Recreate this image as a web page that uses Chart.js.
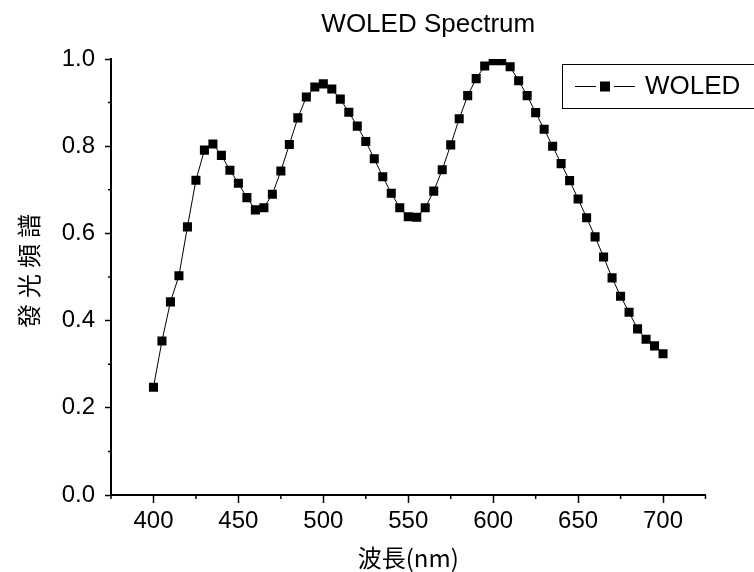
<!DOCTYPE html>
<html>
<head>
<meta charset="utf-8">
<script src="https://cdn.jsdelivr.net/npm/chart.js@4.4.1/dist/chart.umd.min.js"></script>
<style>
html, body { margin: 0; padding: 0; background: #fff; }
</style>
</head>
<body>
<canvas id="spectrumChart" width="754" height="572"></canvas>
<script>
const chartTitle = 'WOLED Spectrum';
const seriesLabel = 'WOLED';
const xAxisTitle = '波長(nm)';
const yAxisTitle = '發光頻譜';

const wavelengths = [
    400, 405, 410, 415, 420, 425, 430, 435, 440, 445,
    450, 455, 460, 465, 470, 475, 480, 485, 490, 495,
    500, 505, 510, 515, 520, 525, 530, 535, 540, 545,
    550, 555, 560, 565, 570, 575, 580, 585, 590, 595,
    600, 605, 610, 615, 620, 625, 630, 635, 640, 645,
    650, 655, 660, 665, 670, 675, 680, 685, 690, 695,
    700
];
const intensity = [
    0.247, 0.353, 0.443, 0.503, 0.615, 0.722, 0.791, 0.805, 0.779, 0.745,
    0.715, 0.682, 0.654, 0.659, 0.690, 0.743, 0.804, 0.865, 0.913, 0.936,
    0.943, 0.931, 0.908, 0.878, 0.846, 0.811, 0.771, 0.730, 0.692, 0.659,
    0.638, 0.637, 0.659, 0.697, 0.746, 0.803, 0.863, 0.916, 0.955, 0.984,
    0.996, 0.996, 0.982, 0.950, 0.916, 0.877, 0.839, 0.800, 0.760, 0.721,
    0.679, 0.636, 0.592, 0.546, 0.498, 0.456, 0.419, 0.381, 0.357, 0.342,
    0.324
];
const xTickLabels = [400, 450, 500, 550, 600, 650, 700];
const yTickLabels = [0.0, 0.2, 0.4, 0.6, 0.8, 1.0];

const latinFont = '"Liberation Sans", Arial, sans-serif';
const cjkFont = '"Noto Sans CJK TC", "Noto Sans CJK SC", sans-serif';

function isXLabel(v) {
    return xTickLabels.includes(v);
}
function isYLabel(v) {
    return yTickLabels.some(t => Math.abs(t - v) < 1e-6);
}

// short minor ticks between the labelled ones
const minorTicks = {
    id: 'minorTicks',
    afterDraw(chart) {
        const ctx = chart.ctx;
        const xs = chart.scales.x;
        const ys = chart.scales.y;
        ctx.save();
        ctx.strokeStyle = '#000';
        ctx.lineWidth = 1.5;
        ctx.beginPath();
        xs.ticks.forEach(t => {
            if (!isXLabel(t.value)) {
                const px = xs.getPixelForValue(t.value);
                ctx.moveTo(px, xs.top);
                ctx.lineTo(px, xs.top + 4);
            }
        });
        ys.ticks.forEach(t => {
            if (!isYLabel(t.value)) {
                const py = ys.getPixelForValue(t.value);
                ctx.moveTo(ys.right, py);
                ctx.lineTo(ys.right - 3, py);
            }
        });
        ctx.stroke();
        ctx.restore();
    }
};

const plotTitles = {
    id: 'plotTitles',
    afterDraw(chart) {
        const ctx = chart.ctx;
        const area = chart.chartArea;
        ctx.save();
        ctx.fillStyle = '#000';
        ctx.font = '26px ' + latinFont;
        ctx.textAlign = 'center';
        ctx.textBaseline = 'middle';
        ctx.fillText(chartTitle, (area.left + area.right) / 2 + 20, 25);

        // vertical axis title, spaced out like the original
        ctx.translate(29, (area.top + area.bottom) / 2 - 6);
        ctx.rotate(-Math.PI / 2);
        ctx.font = '24px ' + cjkFont;
        ctx.letterSpacing = '6px';
        ctx.fillText(yAxisTitle, 3, 0);
        ctx.restore();
    }
};

// framed legend entry: line - square - line, then the label
const legendBox = {
    id: 'legendBox',
    afterDraw(chart) {
        const ctx = chart.ctx;
        const ds = chart.data.datasets[0];
        const cy = 86.5;
        ctx.save();
        ctx.strokeStyle = '#000';
        ctx.lineWidth = 1;
        ctx.strokeRect(562.5, 64.5, 200, 44);
        ctx.beginPath();
        ctx.moveTo(575, cy);
        ctx.lineTo(596, cy);
        ctx.moveTo(614, cy);
        ctx.lineTo(635, cy);
        ctx.stroke();
        ctx.fillStyle = ds.pointBackgroundColor;
        ctx.fillRect(600, cy - 5, 10, 10);
        ctx.font = '26px ' + latinFont;
        ctx.textAlign = 'left';
        ctx.textBaseline = 'middle';
        ctx.fillText(ds.label, 645, cy);
        ctx.restore();
    }
};

function createChart() {
    const ctx = document.getElementById('spectrumChart').getContext('2d');
    const points = wavelengths.map((w, i) => ({ x: w, y: intensity[i] }));
    return new Chart(ctx, {
        type: 'line',
        data: {
            datasets: [{
                label: seriesLabel,
                data: points,
                borderColor: '#000',
                borderWidth: 1,
                pointStyle: 'rect',
                pointRadius: 6.4,
                pointBackgroundColor: '#000',
                pointBorderWidth: 0,
                tension: 0,
                fill: false
            }]
        },
        options: {
            responsive: false,
            animation: false,
            layout: {
                padding: { left: 0, right: 48.5, top: 59, bottom: 0 }
            },
            plugins: {
                legend: { display: false },
                title: { display: false },
                tooltip: { enabled: false }
            },
            scales: {
                x: {
                    type: 'linear',
                    min: 375,
                    max: 725,
                    afterFit(scale) { scale.height = 77; },
                    ticks: {
                        stepSize: 25,
                        autoSkip: false,
                        maxRotation: 0,
                        padding: 4,
                        color: '#000',
                        font: { family: latinFont, size: 24 },
                        callback: v => isXLabel(v) ? String(v) : ''
                    },
                    grid: {
                        drawOnChartArea: false,
                        tickLength: 8,
                        tickWidth: 1.5,
                        tickColor: c => isXLabel(c.tick.value) ? '#000' : 'rgba(0,0,0,0)'
                    },
                    border: { color: '#000', width: 2 },
                    title: {
                        display: true,
                        text: xAxisTitle,
                        color: '#000',
                        font: { family: cjkFont, size: 24 },
                        padding: { top: 0, bottom: 0 }
                    }
                },
                y: {
                    min: 0,
                    max: 1,
                    afterFit(scale) { scale.width = 111; },
                    ticks: {
                        stepSize: 0.1,
                        autoSkip: false,
                        padding: 10,
                        color: '#000',
                        font: { family: latinFont, size: 24 },
                        callback: v => isYLabel(v) ? v.toFixed(1) : ''
                    },
                    grid: {
                        drawOnChartArea: false,
                        tickLength: 6,
                        tickWidth: 1.5,
                        tickColor: c => isYLabel(c.tick.value) ? '#000' : 'rgba(0,0,0,0)'
                    },
                    border: { color: '#000', width: 2 }
                }
            }
        },
        plugins: [minorTicks, plotTitles, legendBox]
    });
}

createChart();
</script>
</body>
</html>
